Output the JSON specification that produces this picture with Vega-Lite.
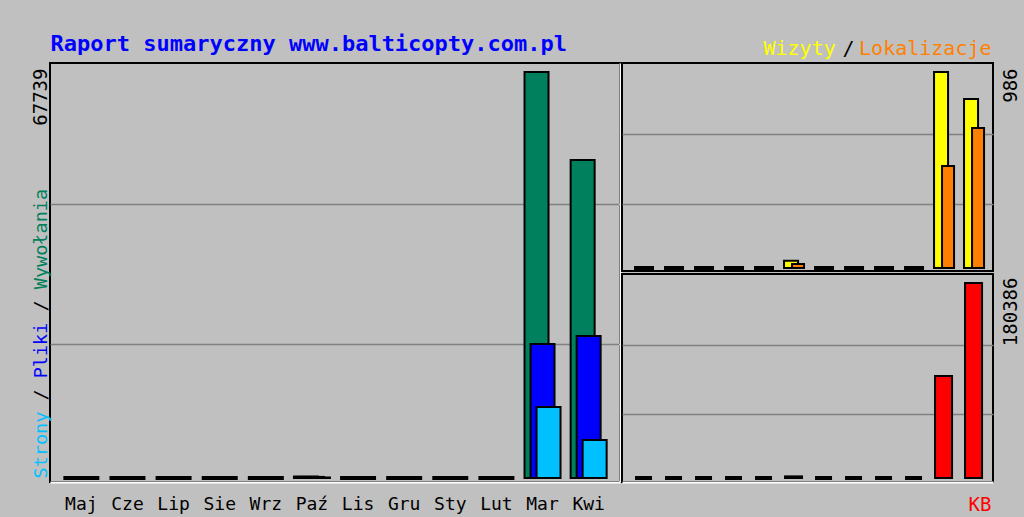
{
  "$schema": "https://vega.github.io/schema/vega-lite/v6.json",
  "background": "#c0c0c0",
  "padding": {"left": 29, "top": 31, "right": 3, "bottom": 2},
  "config": {
    "view": {"stroke": "#000000", "strokeWidth": 2},
    "axis": {"labelFont": "DejaVu Sans Mono", "titleFont": "DejaVu Sans Mono", "ticks": false, "tickSize": 0, "domain": false, "grid": false, "labels": false, "titleFontWeight": "normal", "labelColor": "#000000"}
  },
  "data": {"values": [
    {"month": "Maj", "hits": 0, "files": 0, "pages": 0, "visits": 0, "sites": 0, "kbytes": 0},
    {"month": "Cze", "hits": 0, "files": 0, "pages": 0, "visits": 0, "sites": 0, "kbytes": 0},
    {"month": "Lip", "hits": 0, "files": 0, "pages": 0, "visits": 0, "sites": 0, "kbytes": 0},
    {"month": "Sie", "hits": 0, "files": 0, "pages": 0, "visits": 0, "sites": 0, "kbytes": 0},
    {"month": "Wrz", "hits": 0, "files": 0, "pages": 0, "visits": 0, "sites": 0, "kbytes": 0},
    {"month": "Paź", "hits": 250, "files": 180, "pages": 90, "visits": 36, "sites": 20, "kbytes": 1500},
    {"month": "Lis", "hits": 0, "files": 0, "pages": 0, "visits": 0, "sites": 0, "kbytes": 0},
    {"month": "Gru", "hits": 0, "files": 0, "pages": 0, "visits": 0, "sites": 0, "kbytes": 0},
    {"month": "Sty", "hits": 0, "files": 0, "pages": 0, "visits": 0, "sites": 0, "kbytes": 0},
    {"month": "Lut", "hits": 0, "files": 0, "pages": 0, "visits": 0, "sites": 0, "kbytes": 0},
    {"month": "Mar", "hits": 67739, "files": 22358, "pages": 11846, "visits": 986, "sites": 513, "kbytes": 94355},
    {"month": "Kwi", "hits": 53058, "files": 23693, "pages": 6340, "visits": 850, "sites": 704, "kbytes": 180386}
  ]},
  "bounds": "flush",
  "spacing": 2,
  "hconcat": [
    {
      "width": 570,
      "height": 419,
      "resolve": {"axis": {"x": "independent", "y": "independent"}},
      "layer": [
        {
          "mark": {"type": "bar", "color": "#00805c", "stroke": "#000000", "width": 24, "xOffset": -6},
          "encoding": {
            "x": {"field": "month", "type": "nominal", "sort": null, "scale": {"paddingInner": 0, "paddingOuter": 0.18},
              "axis": {"orient": "top", "title": "Raport sumaryczny www.balticopty.com.pl", "titleColor": "#0000ff", "titleFontSize": 22, "titleFontWeight": "bold", "titleAlign": "left", "titleAngle": 0, "titleX": 0, "titleY": -13, "titleBaseline": "alphabetic"}},
            "y": {"field": "hits", "type": "quantitative", "scale": {"domain": [-667, 69241], "nice": false},
              "axis": {"orient": "left", "values": [22358, 45716, 67739], "grid": true, "gridColor": "#808080", "gridWidth": 1.5,
                "gridOpacity": {"condition": {"test": "datum.value > 60000", "value": 0}, "value": 1},
                "labels": true, "labelExpr": "datum.value > 60000 ? '67739' : ''", "labelAngle": 270, "labelAlign": "right", "labelBaseline": "middle", "labelPadding": 10, "labelOffset": -4, "labelFontSize": 19, "labelFlush": false, "labelOverlap": false,
                "title": "Wywołania", "titleColor": "#00805c", "titleFontSize": 18.5, "titleAngle": 270, "titleAlign": "left", "titleBaseline": "middle", "titleX": -10, "titleY": 225.7}},
            "strokeWidth": {"condition": {"test": "datum.hits == 0", "value": 4}, "value": 2}
          }
        },
        {
          "mark": {"type": "bar", "color": "#0000ff", "stroke": "#000000", "width": 24, "xOffset": 0},
          "encoding": {
            "x": {"field": "month", "type": "nominal", "sort": null,
              "axis": {"orient": "bottom", "labels": true, "labelFontSize": 18, "labelAngle": 0, "labelBaseline": "alphabetic", "labelPadding": 27, "domain": true, "domainColor": "#ffffff", "domainWidth": 2, "title": null}},
            "y": {"field": "files", "type": "quantitative",
              "axis": {"orient": "left", "title": "Pliki", "titleColor": "#0000ff", "titleFontSize": 18.5, "titleAngle": 270, "titleAlign": "left", "titleBaseline": "middle", "titleX": -10, "titleY": 314.8}},
            "strokeWidth": {"condition": {"test": "datum.files == 0", "value": 4}, "value": 2}
          }
        },
        {
          "mark": {"type": "bar", "color": "#00c0ff", "stroke": "#000000", "width": 24, "xOffset": 6},
          "encoding": {
            "x": {"field": "month", "type": "nominal", "sort": null, "axis": null},
            "y": {"field": "pages", "type": "quantitative",
              "axis": {"orient": "left", "title": "Strony", "titleColor": "#00c0ff", "titleFontSize": 18.5, "titleAngle": 270, "titleAlign": "left", "titleBaseline": "middle", "titleX": -10, "titleY": 415}},
            "strokeWidth": {"condition": {"test": "datum.pages == 0", "value": 4}, "value": 2}
          }
        },
        {
          "mark": {"type": "bar", "opacity": 0},
          "encoding": {
            "x": {"field": "month", "type": "nominal", "sort": null, "axis": null},
            "y": {"field": "hits", "type": "quantitative",
              "axis": {"orient": "left", "title": "/", "titleColor": "#000000", "titleFontSize": 18.5, "titleAngle": 270, "titleAlign": "left", "titleBaseline": "middle", "titleX": -10, "titleY": 337}}
          }
        },
        {
          "mark": {"type": "bar", "opacity": 0},
          "encoding": {
            "x": {"field": "month", "type": "nominal", "sort": null, "axis": null},
            "y": {"field": "hits", "type": "quantitative",
              "axis": {"orient": "left", "title": "/", "titleColor": "#000000", "titleFontSize": 18.5, "titleAngle": 270, "titleAlign": "left", "titleBaseline": "middle", "titleX": -10, "titleY": 248}}
          }
        },
        {
          "mark": {"type": "bar", "opacity": 0},
          "encoding": {
            "x": {"field": "month", "type": "nominal", "sort": null, "axis": null},
            "y": {"field": "hits", "type": "quantitative",
              "axis": {"orient": "right", "title": null, "domain": true, "domainColor": "#ffffff", "domainWidth": 2}}
          }
        }
      ]
    },
    {
      "bounds": "flush",
      "spacing": 3,
      "vconcat": [
        {
          "width": 371,
          "height": 208,
          "resolve": {"axis": {"x": "independent", "y": "independent"}},
          "layer": [
            {
              "mark": {"type": "bar", "color": "#ffff00", "stroke": "#000000", "width": 14, "xOffset": -3},
              "encoding": {
                "x": {"field": "month", "type": "nominal", "sort": null, "scale": {"paddingInner": 0, "paddingOuter": 0.183, "align": 0.64},
                  "axis": {"orient": "top", "title": "Wizyty", "titleColor": "#ffff00", "titleFontSize": 20, "titleAlign": "left", "titleAngle": 0, "titleX": 141, "titleY": -9, "titleBaseline": "alphabetic"}},
                "y": {"field": "visits", "type": "quantitative", "scale": {"domain": [-15, 1031], "nice": false},
                  "axis": {"orient": "right", "values": [322, 674, 986], "grid": true, "gridColor": "#808080", "gridWidth": 1.5,
                    "gridOpacity": {"condition": {"test": "datum.value > 900", "value": 0}, "value": 1},
                    "labels": true, "labelExpr": "datum.value > 900 ? '986' : ''", "labelAngle": 270, "labelAlign": "right", "labelBaseline": "middle", "labelPadding": 17, "labelOffset": -4, "labelFontSize": 19, "labelFlush": false, "labelOverlap": false, "title": null}},
                "strokeWidth": {"condition": {"test": "datum.visits == 0", "value": 4}, "value": 2}
              }
            },
            {
              "mark": {"type": "bar", "color": "#ff8000", "stroke": "#000000", "width": 12, "xOffset": 4},
              "encoding": {
                "x": {"field": "month", "type": "nominal", "sort": null,
                  "axis": {"orient": "top", "title": "Lokalizacje", "titleColor": "#ff8000", "titleFontSize": 20, "titleAlign": "right", "titleAngle": 0, "titleX": 369, "titleY": -9, "titleBaseline": "alphabetic"}},
                "y": {"field": "sites", "type": "quantitative", "axis": null},
                "strokeWidth": {"condition": {"test": "datum.sites == 0", "value": 4}, "value": 2}
              }
            },
            {
              "mark": {"type": "bar", "opacity": 0},
              "encoding": {
                "x": {"field": "month", "type": "nominal", "sort": null,
                  "axis": {"orient": "top", "title": "/", "titleColor": "#000000", "titleFontSize": 20, "titleAlign": "center", "titleAngle": 0, "titleX": 226, "titleY": -9, "titleBaseline": "alphabetic"}},
                "y": {"field": "sites", "type": "quantitative", "axis": null}
              }
            }
          ]
        },
        {
          "width": 371,
          "height": 208,
          "mark": {"type": "bar", "color": "#ff0000", "stroke": "#000000", "width": 17, "xOffset": -0.5},
          "encoding": {
            "x": {"field": "month", "type": "nominal", "sort": null, "scale": {"paddingInner": 0, "paddingOuter": 0.183, "align": 0.64},
              "axis": {"orient": "bottom", "title": "KB", "titleColor": "#ff0000", "titleFontSize": 19, "titleAlign": "right", "titleAngle": 0, "titleX": 369, "titleY": 28, "titleBaseline": "alphabetic", "domain": true, "domainColor": "#ffffff", "domainWidth": 2}},
            "y": {"field": "kbytes", "type": "quantitative", "scale": {"domain": [-3700, 188711], "nice": false},
              "axis": {"orient": "right", "values": [59204, 123033, 180386], "grid": true, "gridColor": "#808080", "gridWidth": 1.5,
                "gridOpacity": {"condition": {"test": "datum.value > 170000", "value": 0}, "value": 1},
                "labels": true, "labelExpr": "datum.value > 170000 ? '180386' : ''", "labelAngle": 270, "labelAlign": "right", "labelBaseline": "middle", "labelPadding": 17, "labelOffset": -6, "labelFontSize": 19, "labelFlush": false, "labelOverlap": false, "title": null}},
            "strokeWidth": {"condition": {"test": "datum.kbytes == 0", "value": 4}, "value": 2}
          }
        }
      ]
    }
  ]
}
